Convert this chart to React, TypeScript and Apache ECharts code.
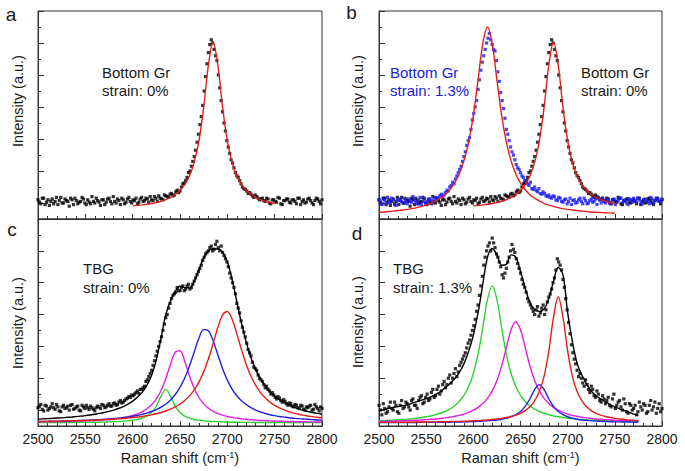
import React, { useEffect, useRef } from 'react';
import * as echarts from 'echarts';

// Raman shift sampling of the measured spectra (cm^-1)
const ramanShift = [
  2500, 2503, 2506, 2509, 2512, 2515, 2518, 2521, 2524, 2527,
  2530, 2533, 2536, 2539, 2542, 2545, 2548, 2551, 2554, 2557,
  2560, 2563, 2566, 2569, 2572, 2575, 2578, 2581, 2584, 2587,
  2590, 2593, 2596, 2599, 2602, 2605, 2608, 2611, 2614, 2617,
  2620, 2623, 2626, 2629, 2632, 2635, 2638, 2641, 2644, 2647,
  2650, 2653, 2656, 2659, 2662, 2665, 2668, 2671, 2674, 2677,
  2680, 2683, 2686, 2689, 2692, 2695, 2698, 2701, 2704, 2707,
  2710, 2713, 2716, 2719, 2722, 2725, 2728, 2731, 2734, 2737,
  2740, 2743, 2746, 2749, 2752, 2755, 2758, 2761, 2764, 2767,
  2770, 2773, 2776, 2779, 2782, 2785, 2788, 2791, 2794, 2797,
  2800,
];
const ramanShiftMid = [
  2501.5, 2504.5, 2507.5, 2510.5, 2513.5, 2516.5, 2519.5, 2522.5, 2525.5, 2528.5,
  2531.5, 2534.5, 2537.5, 2540.5, 2543.5, 2546.5, 2549.5, 2552.5, 2555.5, 2558.5,
  2561.5, 2564.5, 2567.5, 2570.5, 2573.5, 2576.5, 2579.5, 2582.5, 2585.5, 2588.5,
  2591.5, 2594.5, 2597.5, 2600.5, 2603.5, 2606.5, 2609.5, 2612.5, 2615.5, 2618.5,
  2621.5, 2624.5, 2627.5, 2630.5, 2633.5, 2636.5, 2639.5, 2642.5, 2645.5, 2648.5,
  2651.5, 2654.5, 2657.5, 2660.5, 2663.5, 2666.5, 2669.5, 2672.5, 2675.5, 2678.5,
  2681.5, 2684.5, 2687.5, 2690.5, 2693.5, 2696.5, 2699.5, 2702.5, 2705.5, 2708.5,
  2711.5, 2714.5, 2717.5, 2720.5, 2723.5, 2726.5, 2729.5, 2732.5, 2735.5, 2738.5,
  2741.5, 2744.5, 2747.5, 2750.5, 2753.5, 2756.5, 2759.5, 2762.5, 2765.5, 2768.5,
  2771.5, 2774.5, 2777.5, 2780.5, 2783.5, 2786.5, 2789.5, 2792.5, 2795.5, 2798.5,
];

// Raman shift sampling of the fitted curves (cm^-1)
const fitShift = [
  2500, 2505, 2510, 2515, 2520, 2525, 2530, 2535, 2540, 2545,
  2550, 2555, 2560, 2565, 2570, 2575, 2580, 2585, 2590, 2595,
  2600, 2605, 2610, 2615, 2620, 2625, 2630, 2635, 2640, 2645,
  2650, 2655, 2660, 2665, 2670, 2675, 2680, 2685, 2690, 2695,
  2700, 2705, 2710, 2715, 2720, 2725, 2730, 2735, 2740, 2745,
  2750, 2755, 2760, 2765, 2770, 2775, 2780, 2785, 2790, 2795,
  2800,
];

// a / b : bottom graphene, strain 0 %
const bottomGr0 = [
  1.2, 0.95, 1.3, 1.05, 0.85, 1.25, 1.1, 0.9, 1.35, 1.0,
  1.15, 0.8, 1.2, 1.3, 0.95, 1.1, 1.25, 0.9, 1.05, 1.4,
  1.0, 1.15, 0.85, 1.2, 1.05, 1.3, 0.95, 1.1, 1.25, 0.9,
  1.2, 1.05, 1.35, 1.0, 1.15, 0.95, 1.25, 1.1, 1.3, 1.05,
  1.2, 1.4, 1.1, 1.3, 1.2, 1.45, 1.35, 1.6, 1.5, 1.8,
  1.75, 2.2, 2.4, 2.9, 3.3, 3.9, 4.8, 5.9, 7.1, 8.9,
  10.4, 11.2, 10.6, 9.9, 8.2, 6.7, 5.5, 4.5, 3.7, 3.2,
  2.7, 2.4, 2.0, 1.85, 1.6, 1.55, 1.35, 1.4, 1.2, 1.3,
  1.1, 1.25, 0.95, 1.2, 1.05, 1.3, 0.9, 1.15, 1.25, 1.0,
  1.2, 0.95, 1.3, 1.1, 1.0, 1.25, 1.15, 0.9, 1.3, 1.1,
  1.2,
];
const bottomGr0Mid = [
  1.05, 1.3, 0.9, 1.2, 1.1, 0.95, 1.35, 1.15, 1.0, 1.25,
  1.1, 1.3, 0.9, 1.15, 1.05, 1.35, 1.0, 1.2, 0.95, 1.1,
  1.3, 1.05, 1.2, 0.9, 1.25, 1.1, 1.4, 1.0, 1.15, 1.3,
  0.95, 1.25, 1.1, 1.2, 1.3, 1.05, 1.35, 1.15, 1.25, 1.4,
  1.15, 1.3, 1.45, 1.25, 1.5, 1.4, 1.55, 1.45, 1.7, 1.65,
  2.0, 2.25, 2.6, 3.0, 3.6, 4.3, 5.3, 6.4, 8.0, 9.7,
  10.9, 11.0, 10.2, 9.0, 7.4, 6.0, 4.9, 4.1, 3.5, 2.9,
  2.6, 2.2, 1.9, 1.75, 1.65, 1.45, 1.5, 1.3, 1.25, 1.15,
  1.3, 1.0, 1.2, 1.1, 1.35, 0.95, 1.15, 1.25, 1.05, 1.2,
  1.1, 1.3, 0.9, 1.2, 1.05, 1.3, 1.0, 1.15, 1.25, 0.95,
];

// b : bottom graphene, strain 1.3 %
const bottomGr13 = [
  1.2, 0.9, 1.15, 1.35, 1.0, 1.2, 0.85, 1.25, 1.1, 1.3,
  0.95, 1.15, 1.4, 1.05, 1.2, 0.9, 1.3, 1.1, 1.25, 1.0,
  1.35, 1.3, 1.55, 1.5, 1.8, 2.0, 2.3, 2.5, 2.9, 3.3,
  3.9, 4.6, 5.1, 6.2, 7.0, 8.1, 9.3, 10.2, 11.0, 11.6,
  10.9, 10.5, 9.2, 7.9, 6.9, 5.6, 4.9, 4.2, 3.7, 3.2,
  2.9, 2.6, 2.3, 2.1, 1.9, 2.0, 1.7, 1.6, 1.7, 1.45,
  1.5, 1.3, 1.4, 1.15, 1.3, 1.05, 1.25, 1.1, 0.9, 1.2,
  1.05, 1.3, 0.95, 1.15, 1.0, 1.25, 1.1, 0.9, 1.2, 1.3,
  1.0, 1.15, 0.95, 1.25, 1.1, 1.3, 1.0, 1.2, 0.9, 1.15,
  1.3, 1.05, 1.2, 0.95, 1.25, 1.1, 1.35, 1.0, 1.2, 1.1,
  1.25,
];
const bottomGr13Mid = [
  1.05, 1.25, 0.95, 1.1, 1.3, 0.9, 1.15, 1.2, 1.0, 1.1,
  1.25, 1.05, 1.2, 0.95, 1.35, 1.1, 1.0, 1.25, 1.15, 1.3,
  1.2, 1.45, 1.4, 1.65, 1.75, 2.1, 2.2, 2.7, 3.1, 3.6,
  4.2, 4.9, 5.6, 6.6, 7.4, 8.7, 9.8, 10.6, 11.3, 11.2,
  10.6, 9.9, 8.6, 7.4, 6.3, 5.3, 4.5, 4.0, 3.4, 3.1,
  2.7, 2.4, 2.2, 2.3, 1.85, 1.8, 1.9, 1.55, 1.6, 1.4,
  1.35, 1.45, 1.2, 1.35, 1.1, 1.2, 0.95, 1.3, 1.15, 1.0,
  1.2, 1.1, 1.3, 0.95, 1.15, 1.05, 1.25, 1.35, 1.0, 1.1,
  1.25, 1.05, 1.2, 0.9, 1.15, 1.3, 1.1, 1.0, 1.25, 1.05,
  1.15, 1.3, 1.0, 1.2, 1.1, 0.95, 1.25, 1.15, 1.3, 1.05,
];

// c : TBG, strain 0 %
const tbg0 = [
  1.15, 1.35, 0.95, 1.25, 1.1, 1.4, 1.05, 1.2, 0.9, 1.3,
  1.15, 1.0, 1.35, 1.1, 1.25, 0.95, 1.2, 1.3, 1.05, 1.15,
  0.95, 1.25, 1.1, 1.3, 1.2, 1.4, 1.25, 1.45, 1.35, 1.6,
  1.5, 1.7, 1.85, 1.95, 2.0, 2.2, 2.3, 2.4, 2.8, 3.1,
  3.5, 4.1, 4.7, 5.3, 6.0, 6.8, 7.4, 8.0, 8.3, 8.7,
  8.5, 8.8, 8.6, 8.9, 8.7, 9.1, 9.5, 9.9, 10.4, 10.8,
  11.0, 11.3, 11.1, 11.6, 11.0, 10.9, 10.5, 10.0, 9.3, 8.7,
  7.7, 7.1, 6.2, 5.6, 4.8, 4.4, 3.7, 3.5, 3.0, 2.8,
  2.4, 2.3, 2.0, 1.95, 1.7, 1.75, 1.5, 1.55, 1.3, 1.4,
  1.2, 1.3, 1.1, 1.25, 1.0, 1.15, 1.3, 1.05, 1.2, 0.95,
  1.1,
];
const tbg0Mid = [
  1.25, 1.05, 1.3, 1.0, 1.2, 1.15, 1.35, 0.95, 1.2, 1.1,
  1.25, 1.3, 1.05, 1.2, 1.0, 1.3, 1.1, 1.15, 1.25, 1.05,
  1.15, 1.2, 1.35, 1.15, 1.3, 1.25, 1.4, 1.3, 1.5, 1.45,
  1.6, 1.75, 1.8, 1.9, 2.1, 2.05, 2.3, 2.5, 2.9, 3.3,
  3.8, 4.4, 5.0, 5.6, 6.4, 7.0, 7.7, 8.2, 8.4, 8.5,
  8.7, 8.5, 8.8, 8.6, 8.9, 9.3, 9.7, 10.1, 10.6, 10.9,
  11.2, 11.0, 11.4, 11.2, 11.3, 10.7, 10.3, 9.6, 9.0, 8.3,
  7.4, 6.6, 5.9, 5.2, 4.6, 4.0, 3.6, 3.2, 2.9, 2.6,
  2.5, 2.2, 2.1, 1.8, 1.85, 1.6, 1.65, 1.4, 1.45, 1.25,
  1.35, 1.15, 1.3, 1.05, 1.2, 1.25, 1.0, 1.35, 1.1, 1.2,
];

// d : TBG, strain 1.3 %
const tbg13 = [
  1.3, 0.7, 1.1, 0.9, 1.5, 1.0, 1.3, 0.8, 1.6, 1.2,
  1.4, 1.0, 1.7, 1.3, 1.6, 1.9, 1.5, 2.0, 1.7, 2.3,
  1.9, 2.5, 2.2, 2.8, 2.6, 3.2, 3.0, 3.6, 3.4, 4.0,
  4.4, 4.9, 5.4, 6.0, 6.7, 7.6, 8.8, 10.1, 11.0, 11.5,
  11.8, 11.2, 10.6, 10.0, 9.3, 9.9, 10.6, 11.4, 10.9, 10.2,
  9.6, 8.9, 8.4, 7.8, 7.4, 7.0, 7.5, 7.1, 7.6, 7.3,
  8.1, 8.6, 9.3, 10.5, 10.1, 9.2, 8.0, 6.5, 5.1, 4.2,
  3.5, 3.3, 2.7, 2.9, 2.3, 2.5, 1.9, 2.2, 1.6, 1.9,
  1.4, 1.8, 1.2, 2.0, 1.3, 1.6, 1.0, 1.4, 0.8, 1.3,
  1.1, 0.7, 1.5, 1.0, 1.3, 0.9, 1.6, 1.2, 0.8, 1.4,
  1.1,
];
const tbg13Mid = [
  1.0, 1.4, 0.8, 1.2, 1.1, 1.5, 0.9, 1.3, 1.1, 1.5,
  1.2, 1.6, 1.3, 1.1, 1.8, 1.4, 1.8, 1.6, 2.1, 1.8,
  2.3, 2.0, 2.6, 2.4, 3.0, 2.7, 3.3, 3.1, 3.8, 4.2,
  4.6, 5.2, 5.7, 6.3, 7.2, 8.2, 9.4, 10.6, 11.3, 11.0,
  11.5, 10.8, 10.3, 9.5, 9.6, 10.3, 11.0, 11.1, 10.5, 9.9,
  9.2, 8.7, 8.0, 7.6, 7.2, 7.3, 6.9, 7.4, 7.0, 7.8,
  8.3, 9.0, 9.8, 10.3, 9.8, 8.7, 7.3, 5.8, 4.6, 3.9,
  3.1, 3.0, 2.5, 2.6, 2.1, 2.3, 1.8, 2.0, 1.5, 1.7,
  1.6, 1.3, 1.7, 1.1, 1.5, 1.2, 1.7, 0.9, 1.4, 1.0,
  1.3, 0.9, 1.2, 1.4, 0.8, 1.3, 1.0, 1.5, 1.1, 0.9,
];

// Fits, a / b (black data): 2600..2750
const fitGr0 = [
  0.82, 0.85, 0.88, 0.92, 0.97, 1.03, 1.11, 1.21, 1.35, 1.53,
  1.78, 2.15, 2.69, 3.54, 4.88, 6.97, 9.61, 11.05, 9.61, 6.97,
  4.88, 3.54, 2.69, 2.15, 1.78, 1.53, 1.35, 1.21, 1.11, 1.03,
  0.97,
];
// Fit, b (blue data): 2500..2750
const fitGr13 = [
  0.42, 0.44, 0.47, 0.49, 0.53, 0.56, 0.6, 0.65, 0.71, 0.79,
  0.87, 0.98, 1.12, 1.3, 1.52, 1.83, 2.24, 2.81, 3.63, 4.8,
  6.48, 8.69, 10.95, 12.0, 10.95, 8.69, 6.48, 4.8, 3.63, 2.81,
  2.24, 1.83, 1.52, 1.3, 1.12, 0.98, 0.87, 0.79, 0.71, 0.65,
  0.6, 0.56, 0.53, 0.49, 0.47, 0.44, 0.42, 0.41, 0.39, 0.38,
  0.36,
];

// Fits, c: 2500..2800
const fitTbg0Sum = [
  0.43, 0.45, 0.46, 0.48, 0.5, 0.51, 0.54, 0.56, 0.59, 0.62,
  0.65, 0.69, 0.74, 0.79, 0.85, 0.92, 1.0, 1.1, 1.22, 1.37,
  1.56, 1.8, 2.11, 2.55, 3.19, 4.15, 5.54, 6.99, 7.86, 8.47,
  8.78, 8.69, 8.68, 9.09, 9.82, 10.56, 11.01, 11.13, 11.12, 10.92,
  10.32, 9.22, 7.82, 6.44, 5.25, 4.29, 3.54, 2.96, 2.51, 2.15,
  1.88, 1.65, 1.47, 1.31, 1.19, 1.08, 0.99, 0.92, 0.85, 0.79,
  0.74,
];
const fitTbg0Green = [
  0.21, 0.21, 0.21, 0.21, 0.22, 0.22, 0.22, 0.22, 0.22, 0.23,
  0.23, 0.23, 0.24, 0.24, 0.25, 0.26, 0.27, 0.28, 0.3, 0.32,
  0.36, 0.41, 0.49, 0.62, 0.85, 1.25, 1.88, 2.3, 1.88, 1.25,
  0.85, 0.62, 0.49, 0.41, 0.36, 0.32, 0.3, 0.28, 0.27, 0.26,
  0.25, 0.24, 0.24, 0.23, 0.23, 0.23, 0.22, 0.22, 0.22, 0.22,
  0.22, 0.21, 0.21, 0.21, 0.21, 0.21, 0.21, 0.21, 0.21, 0.21,
  0.21,
];
const fitTbg0Magenta = [
  0.25, 0.26, 0.26, 0.27, 0.27, 0.28, 0.28, 0.29, 0.3, 0.31,
  0.32, 0.33, 0.35, 0.37, 0.39, 0.41, 0.44, 0.48, 0.53, 0.58,
  0.66, 0.76, 0.89, 1.08, 1.33, 1.7, 2.23, 2.97, 3.88, 4.64,
  4.73, 4.06, 3.14, 2.36, 1.79, 1.39, 1.12, 0.92, 0.78, 0.68,
  0.6, 0.54, 0.49, 0.45, 0.42, 0.39, 0.37, 0.35, 0.34, 0.32,
  0.31, 0.3, 0.29, 0.28, 0.28, 0.27, 0.27, 0.26, 0.26, 0.25,
  0.25,
];
const fitTbg0Blue = [
  0.28, 0.29, 0.29, 0.3, 0.3, 0.31, 0.32, 0.33, 0.34, 0.35,
  0.36, 0.37, 0.38, 0.4, 0.42, 0.44, 0.47, 0.49, 0.52, 0.56,
  0.61, 0.66, 0.73, 0.81, 0.91, 1.03, 1.18, 1.38, 1.64, 1.98,
  2.43, 3.01, 3.76, 4.65, 5.51, 6.05, 5.98, 5.35, 4.47, 3.6,
  2.88, 2.32, 1.9, 1.58, 1.34, 1.15, 1.0, 0.88, 0.79, 0.71,
  0.65, 0.6, 0.56, 0.52, 0.49, 0.46, 0.44, 0.42, 0.4, 0.38,
  0.37,
];
const fitTbg0Red = [
  0.28, 0.29, 0.29, 0.3, 0.3, 0.31, 0.32, 0.32, 0.33, 0.34,
  0.35, 0.36, 0.37, 0.38, 0.4, 0.41, 0.43, 0.45, 0.47, 0.5,
  0.53, 0.56, 0.6, 0.65, 0.7, 0.77, 0.85, 0.94, 1.06, 1.2,
  1.38, 1.6, 1.89, 2.27, 2.76, 3.4, 4.21, 5.18, 6.2, 6.98,
  7.19, 6.72, 5.8, 4.78, 3.86, 3.12, 2.55, 2.1, 1.77, 1.5,
  1.3, 1.14, 1.01, 0.9, 0.81, 0.74, 0.68, 0.63, 0.59, 0.55,
  0.52,
];

// Fits, d: 2500..2775
const fitTbg13Sum = [
  0.98, 1.03, 1.1, 1.16, 1.22, 1.28, 1.33, 1.43, 1.53, 1.62,
  1.72, 1.83, 1.98, 2.15, 2.4, 2.65, 2.95, 3.35, 3.9, 4.7,
  5.7, 7.1, 8.9, 10.6, 11.15, 10.75, 10.1, 10.15, 10.75, 10.6,
  9.7, 8.65, 7.75, 7.3, 7.2, 7.35, 8.0, 9.1, 9.95, 9.5,
  7.1, 5.3, 3.95, 3.2, 2.65, 2.2, 1.9, 1.7, 1.52, 1.35,
  1.2, 1.08, 0.97, 0.85, 0.75, 0.67,
];
const fitTbg13Green = [
  0.33, 0.34, 0.36, 0.37, 0.39, 0.41, 0.43, 0.46, 0.49, 0.53,
  0.58, 0.63, 0.71, 0.8, 0.91, 1.06, 1.26, 1.54, 1.92, 2.48,
  3.3, 4.5, 6.16, 7.94, 8.8, 7.94, 6.16, 4.5, 3.3, 2.48,
  1.92, 1.54, 1.26, 1.06, 0.91, 0.8, 0.71, 0.63, 0.58, 0.53,
  0.49, 0.46, 0.43, 0.41, 0.39, 0.37, 0.36, 0.34, 0.33, 0.32,
  0.31, 0.3, 0.3, 0.29, 0.29, 0.28,
];
const fitTbg13Magenta = [
  0.29, 0.29, 0.3, 0.31, 0.32, 0.33, 0.34, 0.35, 0.36, 0.38,
  0.4, 0.42, 0.44, 0.47, 0.51, 0.55, 0.61, 0.67, 0.75, 0.86,
  0.99, 1.17, 1.41, 1.74, 2.21, 2.86, 3.77, 4.92, 6.04, 6.55,
  6.04, 4.92, 3.77, 2.86, 2.21, 1.74, 1.41, 1.17, 0.99, 0.86,
  0.75, 0.67, 0.61, 0.55, 0.51, 0.47, 0.44, 0.42, 0.4, 0.38,
  0.36, 0.35, 0.34, 0.33, 0.32, 0.31,
];
const fitTbg13Blue = [
  0.21, 0.22, 0.22, 0.22, 0.22, 0.22, 0.22, 0.22, 0.22, 0.23,
  0.23, 0.23, 0.23, 0.24, 0.24, 0.24, 0.25, 0.25, 0.26, 0.27,
  0.28, 0.29, 0.31, 0.33, 0.35, 0.38, 0.43, 0.49, 0.58, 0.71,
  0.91, 1.23, 1.71, 2.29, 2.6, 2.29, 1.71, 1.23, 0.91, 0.71,
  0.58, 0.49, 0.43, 0.38, 0.35, 0.33, 0.31, 0.29, 0.28, 0.27,
  0.26, 0.26, 0.25, 0.25, 0.24, 0.24,
];
const fitTbg13Red = [
  0.23, 0.23, 0.23, 0.23, 0.24, 0.24, 0.24, 0.24, 0.25, 0.25,
  0.25, 0.26, 0.26, 0.27, 0.27, 0.28, 0.29, 0.29, 0.3, 0.31,
  0.33, 0.34, 0.36, 0.38, 0.41, 0.44, 0.48, 0.53, 0.6, 0.68,
  0.8, 0.97, 1.21, 1.58, 2.16, 3.12, 4.7, 6.84, 8.1, 6.84,
  4.7, 3.12, 2.16, 1.58, 1.21, 0.97, 0.8, 0.68, 0.6, 0.53,
  0.48, 0.44, 0.41, 0.38, 0.36, 0.34,
];

const FONT = '"Liberation Sans", Arial, Helvetica, sans-serif';
const AXIS = '#333';
const TEXT = '#1a1a1a';
const BLACK = '#000';
const RED = '#e0201c';
const GREEN = '#2fd22f';
const MAGENTA = '#e21ee2';
const BLUE_LINE = '#2222d4';
const BLUE_PTS = '#1a1af2';
const BLUE_TEXT = '#2020dc';

const pairs = (xs: number[], ys: number[], start = 0) => ys.map((y, i) => [xs[start + i], y]);

const grids = [
  { left: 38, top: 11, width: 284, height: 208 },
  { left: 379, top: 11, width: 283, height: 208 },
  { left: 38, top: 219, width: 284, height: 207 },
  { left: 379, top: 219, width: 283, height: 207 },
];

export default function App() {
  const ref = useRef<HTMLDivElement>(null);
  useEffect(() => {
    if (!ref.current) return;
    const chart = echarts.init(ref.current, undefined, { renderer: 'svg' });
    const lineStyle = { color: AXIS, width: 1 };
    const xAxes = grids.map((_, g) => ({
      gridIndex: g,
      type: 'value',
      min: 2500,
      max: 2800,
      interval: 50,
      axisLine: { show: true, onZero: false, lineStyle },
      axisTick: { show: true, inside: true, length: 5, lineStyle },
      minorTick: { show: true, splitNumber: 5, length: 3, lineStyle },
      splitLine: { show: false },
      axisLabel: {
        show: g >= 2,
        fontSize: 14,
        color: TEXT,
        fontFamily: FONT,
        margin: 6,
        formatter: (v: number) => String(v),
      },
      name: g >= 2 ? '{n|Raman shift (cm}{s|-1}{n|)}' : '',
      nameLocation: 'middle',
      nameGap: 24,
      nameTextStyle: {
        rich: {
          n: { fontSize: 14.5, color: TEXT, fontFamily: FONT },
          s: { fontSize: 9, color: TEXT, fontFamily: FONT, verticalAlign: 'top' },
        },
      },
    }));
    const yAxes: any[] = [];
    grids.forEach((_, g) => {
      yAxes.push({
        gridIndex: g,
        type: 'value',
        position: 'left',
        min: 0,
        max: 13,
        interval: 1,
        axisLine: { show: true, onZero: false, lineStyle },
        axisTick: { show: true, inside: true, length: 3, lineStyle },
        axisLabel: { show: false },
        splitLine: { show: false },
      });
      yAxes.push({
        gridIndex: g,
        type: 'value',
        position: 'left',
        inverse: true,
        min: 0,
        max: 13,
        interval: 2,
        axisLine: { show: false },
        axisTick: { show: true, inside: true, length: 6, lineStyle },
        axisLabel: { show: false },
        splitLine: { show: false },
      });
    });

    const scatter = (g: number, data: number[], mid: number[], color: string, z = 2) => ({
      type: 'scatter',
      xAxisIndex: g,
      yAxisIndex: g * 2,
      data: pairs(ramanShift, data).concat(pairs(ramanShiftMid, mid)),
      symbol: 'rect',
      symbolSize: 3.2,
      itemStyle: { color },
      silent: true,
      z,
    });
    const line = (g: number, data: number[], color: string, start = 0, width = 1.4) => ({
      type: 'line',
      xAxisIndex: g,
      yAxisIndex: g * 2,
      data: pairs(fitShift, data, start),
      showSymbol: false,
      symbol: 'none',
      smooth: 0.35,
      lineStyle: { color, width },
      silent: true,
      z: 4,
    });

    const series = [
      scatter(0, bottomGr0, bottomGr0Mid, BLACK),
      line(0, fitGr0, RED, 20),
      scatter(1, bottomGr0, bottomGr0Mid, BLACK),
      scatter(1, bottomGr13, bottomGr13Mid, BLUE_PTS, 3),
      line(1, fitGr0, RED, 20),
      line(1, fitGr13, RED, 0),
      scatter(2, tbg0, tbg0Mid, BLACK),
      line(2, fitTbg0Green, GREEN),
      line(2, fitTbg0Magenta, MAGENTA),
      line(2, fitTbg0Blue, BLUE_LINE),
      line(2, fitTbg0Red, RED),
      line(2, fitTbg0Sum, BLACK),
      scatter(3, tbg13, tbg13Mid, BLACK),
      line(3, fitTbg13Green, GREEN),
      line(3, fitTbg13Magenta, MAGENTA),
      line(3, fitTbg13Blue, BLUE_LINE),
      line(3, fitTbg13Red, RED),
      line(3, fitTbg13Sum, BLACK),
    ];

    const txt = (text: string, x: number, y: number, opts: any = {}) => ({
      type: 'text',
      x,
      y,
      rotation: opts.rotation || 0,
      silent: true,
      style: {
        text,
        fill: opts.color || TEXT,
        fontSize: opts.fontSize || 15,
        fontFamily: FONT,
        textAlign: opts.align || 'left',
        align: opts.align || 'left',
        textVerticalAlign: 'middle',
        verticalAlign: 'middle',
      },
    });
    const ylab = 'Intensity (a.u.)';
    const graphic = [
      txt('a', 11, 14, { fontSize: 19, align: 'center' }),
      txt('b', 351.5, 12.5, { fontSize: 19, align: 'center' }),
      txt('c', 12, 229, { fontSize: 19, align: 'center' }),
      txt('d', 357, 233, { fontSize: 19, align: 'center' }),
      txt(ylab, 17.5, 101, { rotation: Math.PI / 2, align: 'center', fontSize: 14.5 }),
      txt(ylab, 357.5, 101, { rotation: Math.PI / 2, align: 'center', fontSize: 14.5 }),
      txt(ylab, 17.5, 323, { rotation: Math.PI / 2, align: 'center', fontSize: 14.5 }),
      txt(ylab, 357.5, 322, { rotation: Math.PI / 2, align: 'center', fontSize: 14.5 }),
      txt('Bottom Gr', 102, 72),
      txt('strain: 0%', 102, 90),
      txt('Bottom Gr', 390, 72, { color: BLUE_TEXT }),
      txt('strain: 1.3%', 390, 90, { color: BLUE_TEXT }),
      txt('Bottom Gr', 581, 72),
      txt('strain: 0%', 581, 90),
      txt('TBG', 83, 268),
      txt('strain: 0%', 83, 287),
      txt('TBG', 393, 268),
      txt('strain: 1.3%', 393, 287),
    ];

    chart.setOption({
      animation: false,
      backgroundColor: '#fff',
      grid: grids.map((g) => ({ ...g, show: true, borderColor: AXIS, borderWidth: 1, containLabel: false })),
      xAxis: xAxes,
      yAxis: yAxes,
      series,
      graphic,
    } as any);
    return () => chart.dispose();
  }, []);
  return (
    <div
      ref={ref}
      style={{ position: 'fixed', left: 0, top: 0, width: 685, height: 471, background: '#fff' }}
    />
  );
}
